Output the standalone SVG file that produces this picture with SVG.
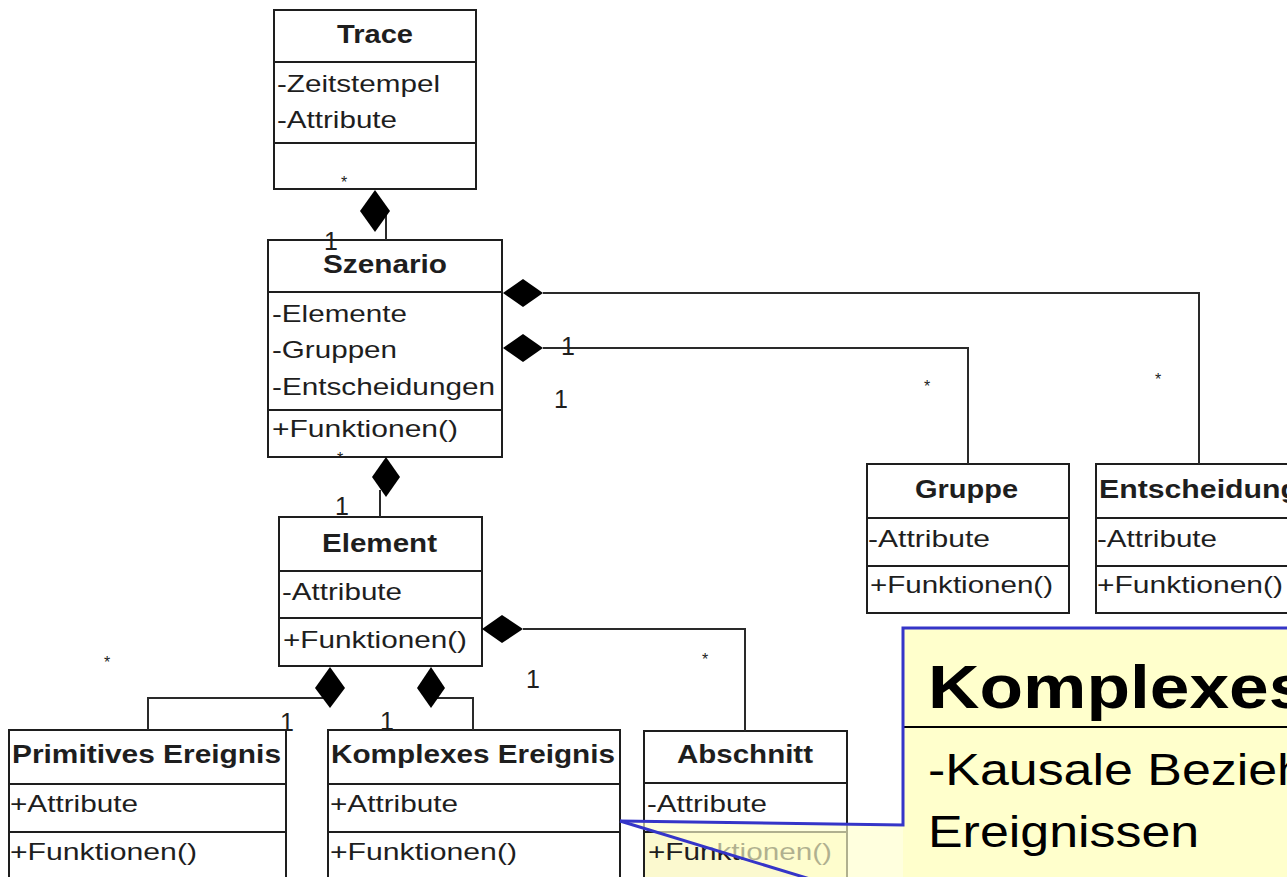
<svg xmlns="http://www.w3.org/2000/svg" width="1287" height="877" viewBox="0 0 1287 877">
<style>
.box{fill:#fff;stroke:#1e1e1e;stroke-width:2}
.sep{stroke:#1e1e1e;stroke-width:2}
.t{font-family:"Liberation Sans",Arial,sans-serif;font-size:24px;fill:#1e1e1e}
.b{font-family:"Liberation Sans",Arial,sans-serif;font-size:26px;font-weight:bold;fill:#1e1e1e}
.m{font-family:"Liberation Sans",Arial,sans-serif;font-size:25px;fill:#1e1e1e}
.s{font-family:"Liberation Sans",Arial,sans-serif;font-size:16px;fill:#1e1e1e}
.ln{fill:none;stroke:#2a2a2a;stroke-width:2}
.dia{fill:#000}
.ct{font-family:"Liberation Sans",Arial,sans-serif;fill:#000}
</style>
<rect width="1287" height="877" fill="#fff"/>

<g id="trace">
<rect class="box" x="274" y="10" width="202" height="179"/>
<line class="sep" x1="274" y1="62" x2="476" y2="62"/>
<line class="sep" x1="274" y1="143" x2="476" y2="143"/>
<text class="b" x="337" y="43" textLength="76" lengthAdjust="spacingAndGlyphs">Trace</text>
<text class="t" x="277" y="92" textLength="163" lengthAdjust="spacingAndGlyphs">-Zeitstempel</text>
<text class="t" x="277" y="128" textLength="120" lengthAdjust="spacingAndGlyphs">-Attribute</text>
</g>

<g id="szenario">
<rect class="box" x="268" y="240" width="234" height="217"/>
<line class="sep" x1="268" y1="292" x2="502" y2="292"/>
<line class="sep" x1="268" y1="410" x2="502" y2="410"/>
<text class="b" x="323" y="273" textLength="124" lengthAdjust="spacingAndGlyphs">Szenario</text>
<text class="t" x="272" y="322" textLength="135" lengthAdjust="spacingAndGlyphs">-Elemente</text>
<text class="t" x="272" y="358" textLength="125" lengthAdjust="spacingAndGlyphs">-Gruppen</text>
<text class="t" x="272" y="395" textLength="223" lengthAdjust="spacingAndGlyphs">-Entscheidungen</text>
<text class="t" x="272" y="437" textLength="186" lengthAdjust="spacingAndGlyphs">+Funktionen()</text>
</g>

<g id="element">
<rect class="box" x="279" y="517" width="203" height="149"/>
<line class="sep" x1="279" y1="571" x2="482" y2="571"/>
<line class="sep" x1="279" y1="618" x2="482" y2="618"/>
<text class="b" x="322" y="552" textLength="115" lengthAdjust="spacingAndGlyphs">Element</text>
<text class="t" x="282" y="600" textLength="120" lengthAdjust="spacingAndGlyphs">-Attribute</text>
<text class="t" x="283" y="648" textLength="184" lengthAdjust="spacingAndGlyphs">+Funktionen()</text>
</g>

<g id="gruppe">
<rect class="box" x="867" y="464" width="202" height="149"/>
<line class="sep" x1="867" y1="518" x2="1069" y2="518"/>
<line class="sep" x1="867" y1="566" x2="1069" y2="566"/>
<text class="b" x="915" y="498" textLength="103" lengthAdjust="spacingAndGlyphs">Gruppe</text>
<text class="t" x="868" y="547" textLength="122" lengthAdjust="spacingAndGlyphs">-Attribute</text>
<text class="t" x="870" y="593" textLength="183" lengthAdjust="spacingAndGlyphs">+Funktionen()</text>
</g>

<g id="entscheidung">
<rect class="box" x="1096" y="464" width="210" height="149"/>
<line class="sep" x1="1096" y1="518" x2="1306" y2="518"/>
<line class="sep" x1="1096" y1="566" x2="1306" y2="566"/>
<text class="b" x="1099" y="498" textLength="200" lengthAdjust="spacingAndGlyphs">Entscheidung</text>
<text class="t" x="1097" y="547" textLength="120" lengthAdjust="spacingAndGlyphs">-Attribute</text>
<text class="t" x="1097" y="593" textLength="186" lengthAdjust="spacingAndGlyphs">+Funktionen()</text>
</g>

<g id="primitives">
<rect class="box" x="9" y="730" width="277" height="160"/>
<line class="sep" x1="9" y1="784" x2="286" y2="784"/>
<line class="sep" x1="9" y1="832" x2="286" y2="832"/>
<text class="b" x="12" y="763" textLength="269" lengthAdjust="spacingAndGlyphs">Primitives Ereignis</text>
<text class="t" x="10" y="812" textLength="128" lengthAdjust="spacingAndGlyphs">+Attribute</text>
<text class="t" x="10" y="860" textLength="187" lengthAdjust="spacingAndGlyphs">+Funktionen()</text>
</g>

<g id="komplexes">
<rect class="box" x="328" y="730" width="292" height="160"/>
<line class="sep" x1="328" y1="784" x2="620" y2="784"/>
<line class="sep" x1="328" y1="832" x2="620" y2="832"/>
<text class="b" x="331" y="763" textLength="284" lengthAdjust="spacingAndGlyphs">Komplexes Ereignis</text>
<text class="t" x="330" y="812" textLength="128" lengthAdjust="spacingAndGlyphs">+Attribute</text>
<text class="t" x="330" y="860" textLength="187" lengthAdjust="spacingAndGlyphs">+Funktionen()</text>
</g>

<g id="abschnitt">
<rect class="box" x="644" y="731" width="203" height="160"/>
<rect x="645" y="833" width="201" height="50" fill="#fbf9cf"/>
<line class="sep" x1="644" y1="783" x2="847" y2="783"/>
<line class="sep" x1="644" y1="832" x2="847" y2="832"/>
<text class="b" x="677" y="763" textLength="136" lengthAdjust="spacingAndGlyphs">Abschnitt</text>
<text class="t" x="647" y="812" textLength="120" lengthAdjust="spacingAndGlyphs">-Attribute</text>
<text class="t" x="648" y="860" textLength="184" lengthAdjust="spacingAndGlyphs">+Funktionen()</text>
</g>

<g id="connectors">
<path class="ln" d="M386,215 V240"/>
<polygon class="dia" points="375,190 390,211 375,232 360,211"/>
<path class="ln" d="M543,293 H1199 V464"/>
<polygon class="dia" points="503,293 523,279 543,293 523,307"/>
<path class="ln" d="M543,348 H968 V464"/>
<polygon class="dia" points="503,348 523,334 543,348 523,362"/>
<path class="ln" d="M380,490 V517"/>
<polygon class="dia" points="386,457 400,477 386,497 372,477"/>
<path class="ln" d="M330,698 H148 V730"/>
<polygon class="dia" points="330,667 345,688 330,708 315,688"/>
<path class="ln" d="M431,698 H473 V730"/>
<polygon class="dia" points="431,667 445,688 431,708 417,688"/>
<path class="ln" d="M523,629 H745 V731"/>
<polygon class="dia" points="482,629 502,615 523,629 502,643"/>

<text class="s" x="344" y="188" text-anchor="middle">*</text>
<text class="m" x="331" y="250" text-anchor="middle">1</text>
<text class="s" x="340" y="464" text-anchor="middle">*</text>
<text class="m" x="342" y="515" text-anchor="middle">1</text>
<text class="m" x="568" y="355" text-anchor="middle">1</text>
<text class="m" x="561" y="408" text-anchor="middle">1</text>
<text class="s" x="927" y="392" text-anchor="middle">*</text>
<text class="s" x="1158" y="385" text-anchor="middle">*</text>
<text class="s" x="107" y="668" text-anchor="middle">*</text>
<text class="m" x="533" y="688" text-anchor="middle">1</text>
<text class="s" x="705" y="665" text-anchor="middle">*</text>
<text class="m" x="287" y="731" text-anchor="middle">1</text>
<text class="m" x="387" y="730" text-anchor="middle">1</text>
</g>

<g id="callout">
<rect x="903" y="628" width="390" height="260" fill="#ffffcc"/>
<polygon points="620,821 903,825 903,880 810,880" fill="#ffffcc" fill-opacity="0.65"/>
<line x1="903" y1="727" x2="1290" y2="727" stroke="#000" stroke-width="2"/>
<text class="ct" font-size="62" font-weight="bold" transform="matrix(1.15 0 0 1 928 708)">Komplexes</text>
<text class="ct" font-size="44" transform="matrix(1.18 0 0 1 928 785)">-Kausale Beziehungen</text>
<text class="ct" font-size="44" transform="matrix(1.18 0 0 1 928 847)">Ereignissen</text>
<path d="M620,821 L903,825 V628 H1292" fill="none" stroke="#3535c8" stroke-width="3"/>
<path d="M620,821 L810,879" fill="none" stroke="#3535c8" stroke-width="3"/>
</g>
</svg>
